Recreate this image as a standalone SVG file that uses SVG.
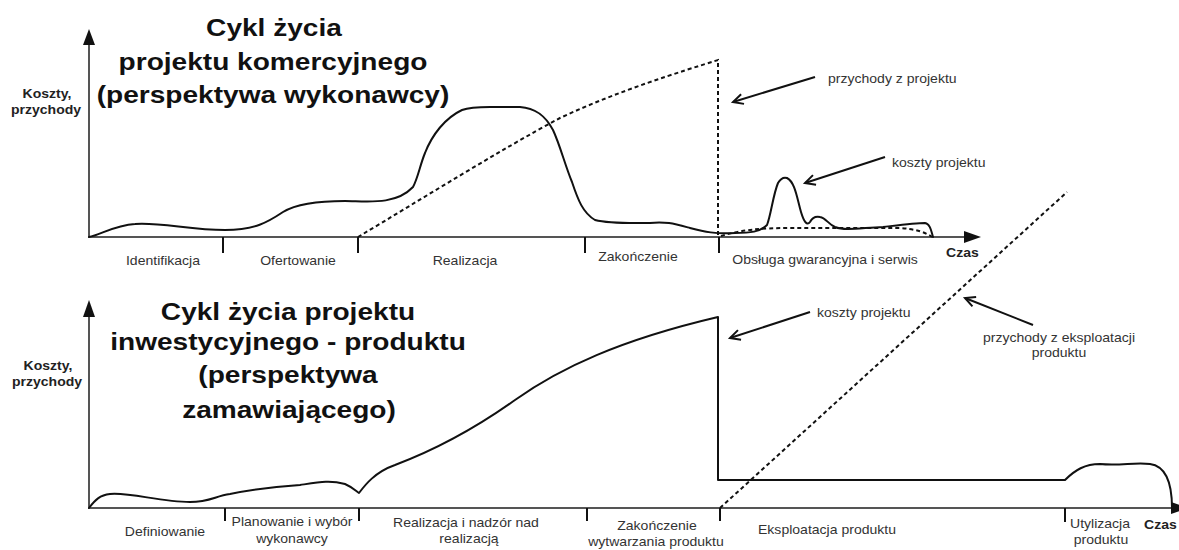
<svg xmlns="http://www.w3.org/2000/svg" width="1179" height="550" viewBox="0 0 1179 550">
  <style>
    .axis { stroke: #555; stroke-width: 2; fill: none; }
    .tick { stroke: #111; stroke-width: 2; fill: none; }
    .curve { stroke: #111; stroke-width: 2; fill: none; stroke-linejoin: round; stroke-linecap: round; }
    .dash { stroke: #111; stroke-width: 2; fill: none; stroke-dasharray: 4 3; }
    .head { fill: #111; stroke: none; }
    .pointer { stroke: #111; stroke-width: 2; fill: none; marker-end: url(#vhead); }
    text { font-family: "Liberation Sans", Arial, sans-serif; }
    .title { font-size: 24px; font-weight: bold; fill: #111; text-anchor: middle; }
    .ylab { font-size: 12px; font-weight: bold; fill: #222; text-anchor: middle; }
    .lbl { font-size: 12px; fill: #333; text-anchor: middle; }
    .note { font-size: 12px; fill: #333; }
    .notec { font-size: 12px; fill: #333; text-anchor: middle; }
    .time { font-size: 12px; font-weight: bold; fill: #222; }
  </style>
  <defs>
    <marker id="vhead" markerUnits="userSpaceOnUse" markerWidth="14" markerHeight="14" refX="11" refY="6" orient="auto">
      <path d="M1,1 L11,6 L1,11" stroke="#111" stroke-width="2" fill="none"/>
    </marker>
  </defs>

  <!-- upper chart: commercial project -->
  <g id="chart-commercial">
    <g id="axes-top">
      <line class="axis" x1="89" y1="238" x2="89" y2="42"/>
      <polygon class="head" points="89,29 83,45 95,45"/>
      <line class="axis" x1="89" y1="237" x2="966" y2="237"/>
      <polygon class="head" points="981,237 964,231 964,243"/>
      <line class="tick" x1="223" y1="237" x2="223" y2="253"/>
      <line class="tick" x1="358" y1="237" x2="358" y2="253"/>
      <line class="tick" x1="585" y1="237" x2="585" y2="253"/>
      <line class="tick" x1="719" y1="237" x2="719" y2="253"/>
    </g>
    <g id="title-top">
      <text class="title" transform="translate(274 36) scale(1.17 1)">Cykl życia</text>
      <text class="title" transform="translate(273 70) scale(1.17 1)">projektu komercyjnego</text>
      <text class="title" transform="translate(273 103) scale(1.17 1)">(perspektywa wykonawcy)</text>
    </g>
    <g id="ylabel-top">
      <text class="ylab" transform="translate(47 98) scale(1.17 1)">Koszty,</text>
      <text class="ylab" transform="translate(46 114) scale(1.17 1)">przychody</text>
    </g>
    <g id="cost-top">
      <path class="curve" d="M89,237 C100,235 115,225 135,224 C160,222 190,230 225,230 C255,230 268,222 283,212 C298,203 320,201 345,201 C365,201 395,206 413,187 C418,178 420,165 425,153 C432,135 445,118 462,110 C470,107 480,107 490,107 L520,107 C535,108 545,115 553,130 C560,145 565,165 572,182 C578,200 583,213 595,220 C610,224 635,223 650,223 C665,221 675,224 690,228 C705,232 715,234 735,233 C750,233 760,232 767,225 C771,215 773,195 778,183 C781,178 784,177 787,178 C795,182 797,198 801,212 C804,222 807,226 810,222 C812,218 815,216 820,217 C826,218 828,224 835,227 C845,231 860,228 883,227 C900,225 915,223 925,223 C930,224 931,230 933,237"/>
    </g>
    <g id="revenue-top">
      <path class="dash" d="M358,237 C420,200 500,150 560,118 C620,90 680,72 718,60 L718,237"/>
      <path class="dash" d="M721,236 C740,230 760,228 790,228 L900,228 C915,229 925,232 932,237"/>
    </g>
    <g id="phases-top">
      <text class="lbl" transform="translate(163 265) scale(1.17 1)">Identifikacja</text>
      <text class="lbl" transform="translate(298 265) scale(1.17 1)">Ofertowanie</text>
      <text class="lbl" transform="translate(465 265) scale(1.17 1)">Realizacja</text>
      <text class="lbl" transform="translate(638 261) scale(1.17 1)">Zakończenie</text>
      <text class="lbl" transform="translate(825 264) scale(1.17 1)">Obsługa gwarancyjna i serwis</text>
      <text class="time" transform="translate(946 257) scale(1.17 1)">Czas</text>
    </g>
    <g id="notes-top">
      <text class="note" transform="translate(828 83) scale(1.17 1)">przychody z projektu</text>
      <text class="note" transform="translate(892 167) scale(1.17 1)">koszty projektu</text>
    </g>
  </g>

  <!-- lower chart: investment project / product -->
  <g id="chart-investment">
    <g id="axes-bottom">
      <line class="axis" x1="89" y1="509" x2="89" y2="313"/>
      <polygon class="head" points="89,300 83,317 95,317"/>
      <line class="axis" x1="89" y1="508" x2="1175" y2="508"/>
      <polygon class="head" points="1188,508 1171,502 1171,514"/>
      <line class="tick" x1="225" y1="508" x2="225" y2="521"/>
      <line class="tick" x1="359" y1="508" x2="359" y2="521"/>
      <line class="tick" x1="587" y1="508" x2="587" y2="521"/>
      <line class="tick" x1="720" y1="508" x2="720" y2="521"/>
      <line class="tick" x1="1065" y1="508" x2="1065" y2="522"/>
    </g>
    <g id="title-bottom">
      <text class="title" transform="translate(288 320) scale(1.17 1)">Cykl życia projektu</text>
      <text class="title" transform="translate(288 350) scale(1.17 1)">inwestycyjnego - produktu</text>
      <text class="title" transform="translate(288 383) scale(1.17 1)">(perspektywa</text>
      <text class="title" transform="translate(289 418) scale(1.17 1)">zamawiającego)</text>
    </g>
    <g id="ylabel-bottom">
      <text class="ylab" transform="translate(48 370) scale(1.17 1)">Koszty,</text>
      <text class="ylab" transform="translate(47 386) scale(1.17 1)">przychody</text>
    </g>
    <g id="cost-bottom">
      <path class="curve" d="M89,508 C95,500 100,495 110,494 C130,492 160,502 190,502 C210,502 215,496 230,494 C250,490 270,487 300,485 C320,482 330,480 345,484 C352,487 356,491 359,493 C365,485 375,472 395,465 C440,448 480,425 515,400 C560,368 620,340 718,317 L718,480 L1065,480 C1075,470 1085,464 1100,464 C1120,466 1135,462 1150,464 C1165,466 1172,480 1172,508"/>
    </g>
    <g id="revenue-bottom">
      <path class="dash" d="M720,508 L1067,192"/>
    </g>
    <g id="phases-bottom">
      <text class="lbl" transform="translate(165 536) scale(1.17 1)">Definiowanie</text>
      <text class="lbl" transform="translate(292 526) scale(1.17 1)">Planowanie i wybór</text>
      <text class="lbl" transform="translate(292 543) scale(1.17 1)">wykonawcy</text>
      <text class="lbl" transform="translate(466 527) scale(1.17 1)">Realizacja i nadzór nad</text>
      <text class="lbl" transform="translate(469 543) scale(1.17 1)">realizacją</text>
      <text class="lbl" transform="translate(657 530) scale(1.17 1)">Zakończenie</text>
      <text class="lbl" transform="translate(656 546) scale(1.17 1)">wytwarzania produktu</text>
      <text class="lbl" transform="translate(827 534) scale(1.17 1)">Eksploatacja produktu</text>
      <text class="lbl" transform="translate(1100 528) scale(1.17 1)">Utylizacja</text>
      <text class="lbl" transform="translate(1101 544) scale(1.17 1)">produktu</text>
      <text class="time" transform="translate(1144 529) scale(1.17 1)">Czas</text>
    </g>
    <g id="notes-bottom">
      <text class="note" transform="translate(817 317) scale(1.17 1)">koszty projektu</text>
      <text class="notec" transform="translate(1059 342) scale(1.17 1)">przychody z eksploatacji</text>
      <text class="notec" transform="translate(1059 357) scale(1.17 1)">produktu</text>
    </g>
  </g>

  <!-- pointer arrows from notes to curves -->
  <g id="connectors">
    <line class="pointer" x1="815" y1="77" x2="733" y2="102"/>
    <line class="pointer" x1="885" y1="157" x2="805" y2="183"/>
    <line class="pointer" x1="810" y1="312" x2="730" y2="338"/>
    <line class="pointer" x1="1033" y1="325" x2="965" y2="298"/>
  </g>
</svg>
